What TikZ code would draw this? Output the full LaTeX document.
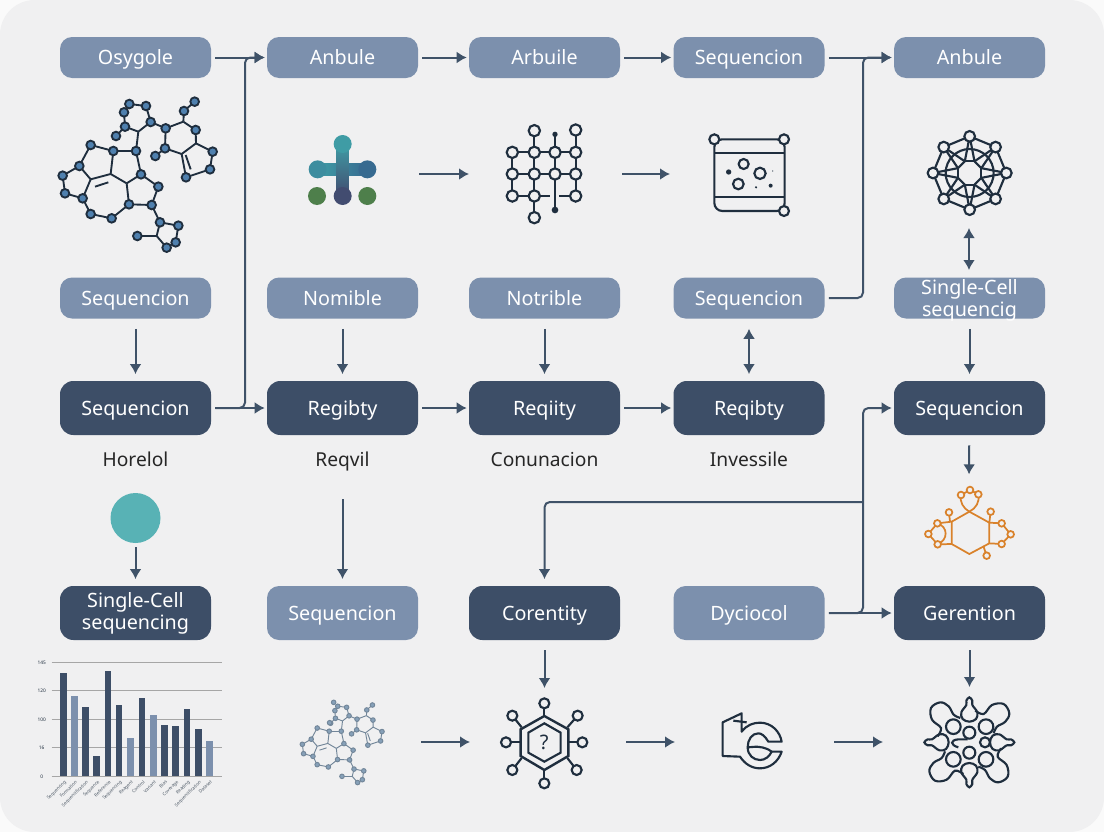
\documentclass[tikz,border=0pt]{standalone}
\usepackage{fontspec}
\setmainfont{Noto Sans}
\usetikzlibrary{arrows.meta}

\definecolor{pagebg}{HTML}{F0F0F1}
\definecolor{pageout}{HTML}{FAFAFA}
\definecolor{lightbox}{HTML}{7C90AD}
\definecolor{darkbox}{HTML}{3D4E67}
\definecolor{connline}{HTML}{3F5268}
\definecolor{iconline}{HTML}{1F2E3E}
\definecolor{orangeline}{HTML}{D9822B}
\definecolor{molfill}{HTML}{4F80AE}
\definecolor{molpale}{HTML}{86A0B8}
\definecolor{molpaleline}{HTML}{728699}
\definecolor{tealdot}{HTML}{58B2B5}
\definecolor{blobteal}{HTML}{3F9CA5}
\definecolor{blobblue}{HTML}{376A90}
\definecolor{blobdark}{HTML}{424C70}
\definecolor{blobgreen}{HTML}{4E7F4B}

\tikzset{
	lightnode/.style={rounded corners=9pt, fill=lightbox, text=white, minimum width=113.25pt, minimum height=30.75pt, font=\fontsize{14.8}{17}\selectfont, align=center, inner sep=0pt, text height=12.6pt, text depth=2pt},
	darknode/.style={rounded corners=10pt, fill=darkbox, text=white, minimum width=113.25pt, minimum height=40.5pt, font=\fontsize{14.8}{17}\selectfont, align=center, inner sep=0pt, text height=12.6pt, text depth=2pt},
	textnode/.style={text=black!85, font=\fontsize{14.4}{17}\selectfont, text height=12.6pt, text depth=2pt},
	conn/.style={line width=1.5pt, draw=connline, ->, >={Latex[length=7.5pt,width=9pt]}},
	hconn/.style={conn, shorten <=3pt, shorten >=1.5pt},
	vconn/.style={conn, shorten <=7.5pt, shorten >=5pt},
	bus/.style={hconn, rounded corners=4pt},
	icon/.style={line width=1.6pt, draw=iconline},
	ball/.style={icon, fill=pagebg},
	orangeicon/.style={line width=1.3pt, draw=orangeline},
	orangeball/.style={orangeicon, fill=pagebg}
}

% ball and stick molecule, in units of the top left one
\newcommand{\molecule}[4]{
	\foreach \n/\x/\y in {a/268/72, b/318/78, c/332/126, d/255/140, e/252/97, f/228/168, g/295/155, h/288/213,
			i/377/145, j/430/125, k/432/93, l/464/65, m/467/150, n/468/190, o/425/222, p/375/205, q/346/228,
			r/518/215, s/510/268, t/438/292, u/220/213, v/212/282, w/260/310, y/303/283, z/152/195,
			A/118/258, B/152/298, C/68/287, D/75/340, E/128/355, F/152/402, G/215/415, H/267/373,
			I/335/375, J/355/320, K/360/427, L/415/437, M/407/487, N/380/503, O/350/468, P/292/468}
		\coordinate (m\n) at (\x,\y);
	\foreach \s/\e in {a/b, b/c, c/g, g/d, d/e, e/a, d/f, g/h, c/i, i/j, j/k, k/l, j/m, m/n, n/o, o/p, p/i, p/q,
			n/r, r/s, s/t, t/o, h/u, u/v, v/w, w/y, y/h, u/z, z/A, A/B, B/v, A/C, C/D, D/E, E/B, E/F, F/G, G/H,
			H/w, H/I, I/J, J/y, I/K, K/L, L/M, M/N, N/O, O/K, O/P}
		\draw[draw=#1, line width=#3] (m\s) -- (m\e);
	\draw[draw=#1, line width=#3] (165,320) -- (205,307);
	\draw[draw=#1, line width=#3] (437,225) -- (452,268);
	\foreach \n in {a,b,c,d,e,f,h,i,k,l,m,p,q,r,s,t,u,y,z,A,C,D,E,F,G,H,I,J,K,L,M,N,P}
		\filldraw[draw=#1, fill=#2, line width=#3] (m\n) circle[radius=#4];
}

\begin{document}
\begin{tikzpicture}[x=0.75pt, y=-0.75pt]
	\useasboundingbox (0,0) rectangle (1104,832);
	\fill[pageout] (0,0) rectangle (1104,832);
	\fill[pagebg, rounded corners=26pt] (0,0) rectangle (1104,832);

	% first row
	\node[lightnode] (osygole) at (135.5,57.5) {Osygole};
	\node[lightnode] (anbulea) at (342.5,57.5) {Anbule};
	\node[lightnode] (arbule) at (544.5,57.5) {Arbuile};
	\node[lightnode] (seqa) at (749,57.5) {Sequencion};
	\node[lightnode] (anbuleb) at (969.5,57.5) {Anbule};

	% second row
	\node[lightnode] (seqb) at (135.5,298) {Sequencion};
	\node[lightnode] (notriblea) at (342.5,298) {Nomible};
	\node[lightnode] (notribleb) at (544.5,298) {Notrible};
	\node[lightnode] (seqc) at (749,298) {Sequencion};
	\node[lightnode, text height=29pt, text depth=1pt] (singlea) at (969.5,298) {Single-Cell\\sequencig};

	% third row
	\node[darknode] (seqd) at (135.5,408) {Sequencion};
	\node[darknode] (regiba) at (342.5,408) {Regibty};
	\node[darknode] (reqi) at (544.5,408) {Reqiity};
	\node[darknode] (regibb) at (749,408) {Reqibty};
	\node[darknode] (seqe) at (969.5,408) {Sequencion};

	\node[textnode] (horelol) at (135.5,459) {Horelol};
	\node[textnode] (reqvil) at (342.5,459) {Reqvil};
	\node[textnode] (conun) at (544.5,459) {Conunacion};
	\node[textnode] (invess) at (749,459) {Invessile};

	% fourth row
	\node[circle, fill=tealdot, minimum size=37.5pt, inner sep=0pt] (dot) at (135.5,518) {};
	\node[darknode, text height=27pt, text depth=2pt] (singleb) at (135.5,613) {Single-Cell\\sequencing};
	\node[lightnode, minimum height=40.5pt] (seqf) at (342.5,613) {Sequencion};
	\node[darknode] (corent) at (544.5,613) {Corentity};
	\node[lightnode, minimum height=40.5pt] (dyc) at (749,613) {Dyciocol};
	\node[darknode] (geren) at (969.5,613) {Gerention};

	% free ends next to the icons
	\coordinate (plusr) at (419,174);
	\coordinate (gridl) at (469,174);
	\coordinate (gridr) at (622,174);
	\coordinate (flaskl) at (670,174);
	\coordinate (polyb) at (969,228);
	\coordinate (singlet) at (969,270);
	\coordinate (orangea) at (969,481);
	\coordinate (reqvilb) at (342.5,499);
	\coordinate (seqft) at (342.5,579);
	\coordinate (hexa) at (544.5,688);
	\coordinate (blobt) at (969.5,687);
	\coordinate (molr) at (421,742);
	\coordinate (hexl) at (470,742);
	\coordinate (hexr) at (626,742);
	\coordinate (curll) at (675,742);
	\coordinate (curlr) at (834,742);
	\coordinate (blobl) at (883,742);
	\coordinate (busa) at (245,408);
	\coordinate (busb) at (245,57.5);
	\coordinate (busc) at (863,298);
	\coordinate (busd) at (863,57.5);
	\coordinate (buse) at (863,613);
	\coordinate (busf) at (863,408);
	\coordinate (busg) at (863,502);
	\coordinate (bush) at (544.5,502);

	% connectors
	\draw[hconn] (osygole) -- (anbulea);
	\draw[hconn] (anbulea) -- (arbule);
	\draw[hconn] (arbule) -- (seqa);
	\draw[hconn] (seqa) -- (anbuleb);
	\draw[hconn] (seqd) -- (regiba);
	\draw[hconn] (regiba) -- (reqi);
	\draw[hconn] (reqi) -- (regibb);
	\draw[hconn] (dyc) -- (geren);
	\draw[conn] (plusr) -- (gridl);
	\draw[conn] (gridr) -- (flaskl);
	\draw[conn] (molr) -- (hexl);
	\draw[conn] (hexr) -- (curll);
	\draw[conn] (curlr) -- (blobl);
	\draw[conn] (reqvilb) -- (seqft);
	\draw[vconn] (seqb) -- (seqd);
	\draw[vconn] (notriblea) -- (regiba);
	\draw[vconn] (notribleb) -- (reqi);
	\draw[vconn, <->] (seqc) -- (regibb);
	\draw[vconn] (singlea) -- (seqe);
	\draw[vconn] (seqe) -- (orangea);
	\draw[conn, <->] (polyb) -- (singlet);
	\draw[conn, shorten <=3pt, shorten >=5pt] (dot) -- (singleb);
	\draw[conn, shorten <=7.5pt, shorten >=0pt] (corent) -- (hexa);
	\draw[conn, shorten <=7.5pt, shorten >=0pt] (geren) -- (blobt);
	\draw[bus] (seqd.east) -- (busa) -- (busb) -- (anbulea.west);
	\draw[bus] (seqc.east) -- (busc) -- (busd) -- (anbuleb.west);
	\draw[bus] (dyc.east) -- (buse) -- (busf) -- (seqe.west);
	\draw[conn, rounded corners=4pt, shorten >=5pt] (busg) -- (bush) -- (corent.north);

	% molecule top left
	\begin{scope}[shift={(40,80)}, scale=1/3]
		\molecule{iconline}{molfill}{1.4pt}{13}
	\end{scope}

	% plus shaped blob
	\begin{scope}[shift={(290,110)}, scale=1/3]
		\shade[left color=blobteal, right color=blobblue] (83,160) rectangle (232,196);
		\shade[top color=blobteal, bottom color=blobdark] (140,102) rectangle (176,258);
		\fill[blobteal] (158,102) circle[radius=27];
		\fill[blobteal!70!blobblue] (83,178) circle[radius=27];
		\fill[blobblue] (232,178) circle[radius=27];
		\fill[blobdark] (158,258) circle[radius=27];
		\fill[blobgreen] (81,258) circle[radius=27];
		\fill[blobgreen] (232,258) circle[radius=27];
	\end{scope}

	% grid
	\begin{scope}[shift={(290,110)}, scale=1/3]
		\draw[icon] (667,127) -- (857,127);
		\draw[icon] (667,192) -- (857,192);
		\draw[icon] (667,258) -- (780,258);
		\draw[icon] (807,258) -- (857,258);
		\draw[icon] (667,127) -- (667,258);
		\draw[icon] (733,62) -- (733,323);
		\draw[icon] (795,73) -- (795,300);
		\draw[icon] (857,60) -- (857,258);
		\foreach \x/\y in {733/62, 857/60, 667/127, 733/127, 795/127, 857/127, 667/192, 733/192, 795/192, 857/192, 667/258, 733/258, 857/258, 733/323}
			\filldraw[ball] (\x,\y) circle[radius=17];
		\fill[iconline] (795,73) circle[radius=8];
		\fill[iconline] (795,300) circle[radius=10];
	\end{scope}

	% flask
	\begin{scope}[shift={(690,110)}, scale=1/3]
		\draw[icon, rounded corners=6pt] (73,88) -- (73,303) -- (284,303) -- (284,88) -- cycle;
		\draw[icon] (73,128) -- (284,128);
		\draw[icon] (73,260) -- (284,260);
		\foreach \x/\y in {73/88, 282/88, 282/303}
			\filldraw[ball] (\x,\y) circle[radius=15];
		\foreach \x/\y/\r in {161/162/15, 210/190/17, 145/222/16}
			\draw[icon] (\x,\y) circle[radius=\r];
		\foreach \x/\y/\r in {116/186/8, 248/183/2, 198/232/3.5, 242/227/6}
			\fill[iconline] (\x,\y) circle[radius=\r];
	\end{scope}

	% cage
	\begin{scope}[shift={(690,110)}, scale=1/3]
		\begin{scope}[shift={(839,189)}]
			\draw[icon] (0,0) circle[radius=72];
			\foreach \a in {0,45,...,315} {
				\draw[icon] (\a:110) -- (\a+45:110);
				\draw[icon] (\a:110) -- (\a+22.5:38);
				\draw[icon] (\a:110) -- (\a-22.5:38);
				\draw[icon] (\a+22.5:38) -- (\a+67.5:38);
			}
			\foreach \a in {0,45,...,315}
				\filldraw[ball] (\a:110) circle[radius=16];
		\end{scope}
	\end{scope}

	% bar chart
	\begin{scope}[shift={(20,650)}, scale=1/3]
		\foreach \y/\lab in {37/145, 122/120, 208/100, 293/16, 379/0} {
			\draw[gray!70, line width=0.6pt] (95,\y) -- (605,\y);
			\node[font=\fontsize{3.6}{4}\bfseries\selectfont, text=iconline] (tick\lab) at (65,\y) {\lab};
		}
		\foreach \x/\top/\col/\lab in {130/68/darkbox/Sequencing, 163/137/lightbox/Formation, 196/172/darkbox/Sequencification, 230/317/darkbox/Sequence, 264/62/darkbox/Reference, 297/165/darkbox/Sequencing, 331/265/lightbox/Reagent, 366/145/darkbox/Control, 400/195/lightbox/Variant, 433/225/darkbox/Bias, 467/228/darkbox/Coverage, 501/178/darkbox/Reading, 535/236/darkbox/Sequencification, 568/273/lightbox/Dataset} {
			\fill[\col] (\x-10,\top) rectangle (\x+10,379);
			\node[font=\fontsize{3.4}{4}\selectfont, text=iconline!80, rotate=45, anchor=north east, inner sep=0.5pt] (bar\x) at (\x+2,386) {\lab};
		}
	\end{scope}

	% molecule at the bottom
	\begin{scope}[shift={(290.3,693.5)}, scale=0.177]
		\molecule{molpaleline}{molpale}{0.7pt}{13}
		\foreach \x/\y in {245/50, 222/165}
			\filldraw[draw=molpaleline, fill=molpale, line width=0.7pt] (\x,\y) circle[radius=13];
	\end{scope}

	% hexagon with the question mark
	\begin{scope}[shift={(280,690)}, scale=1/3]
		\foreach \x/\y/\a/\b in {793/40/793/78, 893/77/862/112, 907/157/865/157, 890/240/862/204, 793/280/793/240, 697/240/725/204, 678/157/722/157, 697/77/725/112} {
			\draw[icon] (\a,\b) -- (\x,\y);
			\filldraw[ball] (\x,\y) circle[radius=15];
		}
		\draw[icon, line width=1.8pt] (793,78) -- (865,118) -- (865,198) -- (793,240) -- (722,198) -- (722,118) -- cycle;
		\draw[icon] (793,100) -- (842,128) -- (842,188) -- (793,215) -- (745,188) -- (745,128) -- cycle;
		\node[font=\fontsize{15}{17}\selectfont, text=iconline] (qmark) at (793,158) {?};
	\end{scope}

	% curl
	\begin{scope}[shift={(700,690)}, scale=1/3]
		\draw[icon, line join=round] (68,198) -- (68,97) -- (125,70) -- (125,125) .. controls (140,105) and (160,98) .. (180,98) .. controls (215,98) and (240,125) .. (245,155) -- (205,155) .. controls (195,138) and (185,130) .. (175,130) .. controls (155,130) and (143,150) .. (143,172) .. controls (143,195) and (160,210) .. (180,210) .. controls (195,210) and (208,200) .. (215,185) -- (245,185) .. controls (235,215) and (210,235) .. (180,235) .. controls (155,235) and (135,222) .. (120,200) -- cycle;
		\draw[icon] (143,172) -- (170,170) .. controls (180,172) and (195,170) .. (215,185);
		\draw[icon] (100,92) -- (140,97);
	\end{scope}

	% blob at the bottom right
	\begin{scope}[shift={(700,690)}, scale=1/3]
		\begin{scope}[shift={(808,157)}]
			\foreach \a in {0,90,180,270} {
				\begin{scope}[rotate=\a]
					\draw[icon] plot[smooth, tension=0.6] coordinates {(18,-95) (43,-85) (68,-112) (103,-115) (120,-87) (108,-62) (83,-47) (73,-27)};
					\draw[icon] plot[smooth cycle, tension=0.6] coordinates {(0,-135) (9,-125) (9,-112) (24,-90) (20,-70) (0,-62) (-20,-70) (-24,-90) (-9,-112) (-9,-125)};
				\end{scope}
			}
		\end{scope}
		\foreach \x/\y/\r in {760/110/22, 858/110/22, 760/208/22, 858/208/22, 808/128/18, 855/157/15, 808/188/18}
			\draw[icon] (\x,\y) circle[radius=\r];
		\draw[icon] (775,172) .. controls (750,165) and (750,150) .. (775,148) -- (803,148);
	\end{scope}

	% orange icon
	\begin{scope}[shift={(900,470)}, scale=1/3]
		\draw[orangeicon] (208,125) -- (268,158) -- (268,220) -- (208,252) -- (155,222) -- (155,155) -- cycle;
		\draw[orangeicon] (208,125) .. controls (190,115) and (178,95) .. (183,75);
		\draw[orangeicon] (208,125) .. controls (228,115) and (240,95) .. (235,73);
		\draw[orangeicon] (183,75) -- (210,60) -- (235,73);
		\draw[orangeicon] (147,127) -- (150,155);
		\draw[orangeicon] (272,125) -- (268,158);
		\draw[orangeicon] (260,257) -- (250,228);
		\draw[orangeicon] (155,155) -- (112,160) -- (85,192) -- (113,223) -- (155,222);
		\draw[orangeicon] (112,160) .. controls (145,170) and (145,210) .. (113,223);
		\draw[orangeicon] (268,158) -- (305,160) -- (332,193) -- (305,222) -- (268,220);
		\foreach \x/\y in {183/75, 210/60, 235/73, 147/127, 272/125, 260/257, 112/160, 85/192, 113/223, 305/160, 332/193, 305/222}
			\filldraw[orangeball] (\x,\y) circle[radius=10];
	\end{scope}
\end{tikzpicture}
\end{document}
